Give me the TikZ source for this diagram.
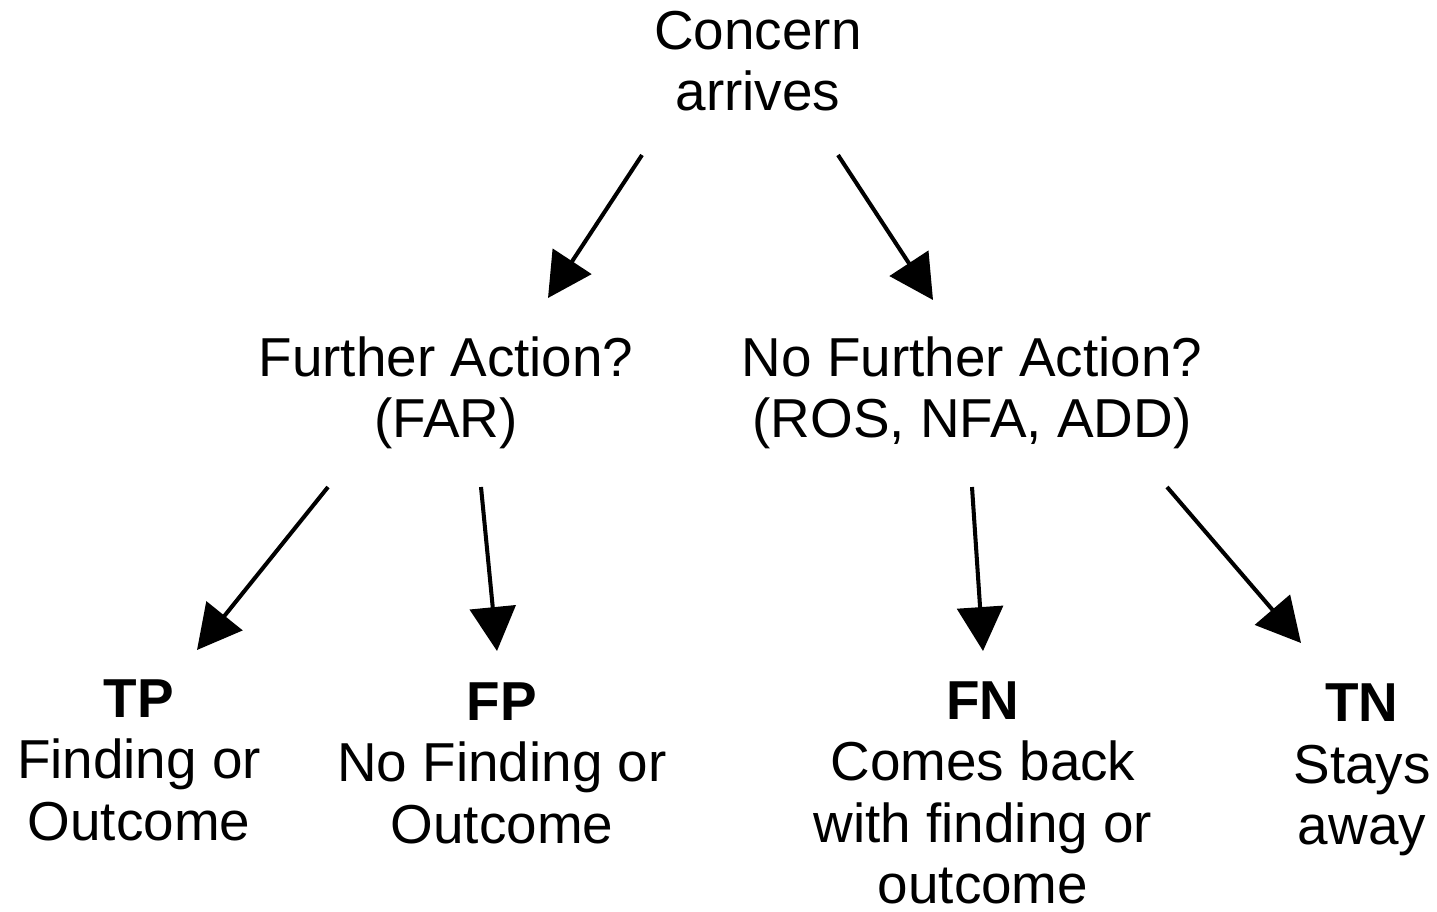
\documentclass[tikz,border=0pt]{standalone}
\usepackage{fontspec}
\setmainfont{Liberation Sans}
\usetikzlibrary{arrows.meta}
\begin{document}
\begin{tikzpicture}[x=0.01cm,y=-0.01cm,
  lbl/.style={align=center,inner sep=0pt,font=\fontsize{15.6pt}{17.5pt}\selectfont},
  arr/.style={line width=1.15pt,-{Triangle[length=12.5pt,width=13pt]}}]
\useasboundingbox (0,0) rectangle (1437,911);

% decision tree labels
\node[lbl] (root) at (758,61) {Concern\\arrives};
\node[lbl] (fa)   at (446,393) {Further Action?\\(FAR)};
\node[lbl] (nfa)  at (972,393) {No Further Action?\\(ROS, NFA, ADD)};
\node[lbl] (tp)   at (139,760) {\textbf{TP}\\Finding or\\Outcome};
\node[lbl] (fp)   at (502,763) {\textbf{FP}\\No Finding or\\Outcome};
\node[lbl] (fn)   at (983,793) {\textbf{FN}\\Comes back\\with finding or\\outcome};
\node[lbl] (tn)   at (1362,770) {\textbf{TN}\\Stays\\away};

% arrow end points
\coordinate (r1) at (642,155);  \coordinate (fa1) at (548,298);
\coordinate (r2) at (838,155);  \coordinate (nf1) at (933,300);
\coordinate (fa2) at (328,487); \coordinate (tp1) at (197,650);
\coordinate (fa3) at (481,487); \coordinate (fp1) at (497,651);
\coordinate (nf2) at (972,487); \coordinate (fn1) at (983,651);
\coordinate (nf3) at (1167,487);\coordinate (tn1) at (1301,643);

\draw[arr] (r1) -- (fa1);
\draw[arr] (r2) -- (nf1);
\draw[arr] (fa2) -- (tp1);
\draw[arr] (fa3) -- (fp1);
\draw[arr] (nf2) -- (fn1);
\draw[arr] (nf3) -- (tn1);
\end{tikzpicture}
\end{document}
